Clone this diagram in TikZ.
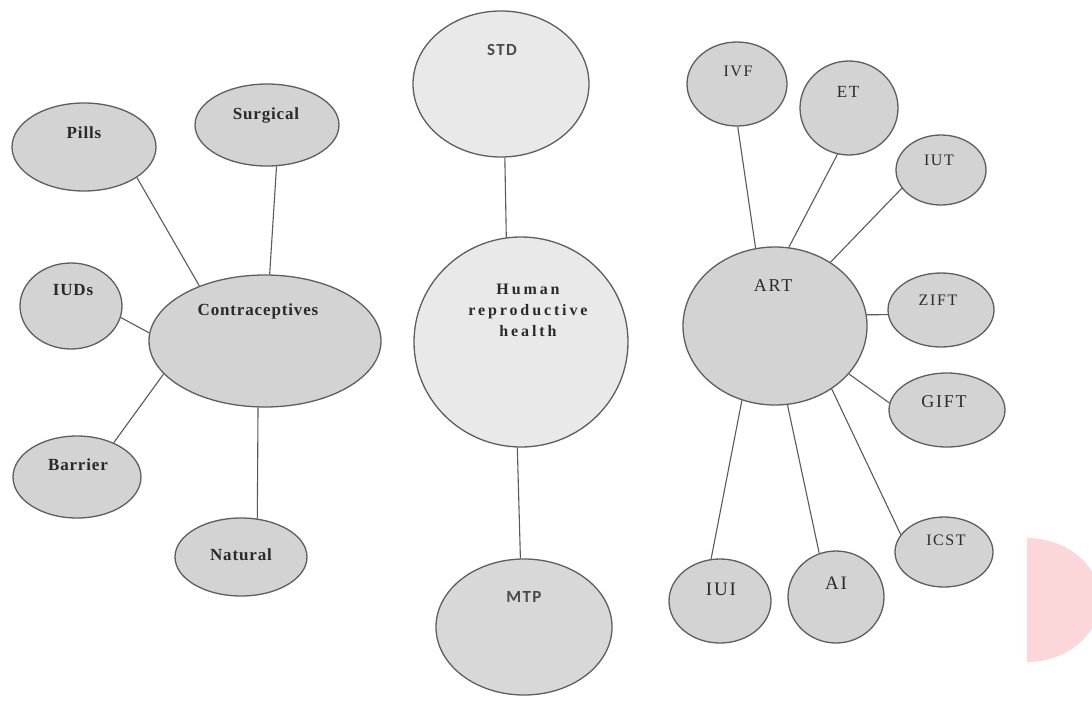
\documentclass[tikz,border=0pt]{standalone}
\usepackage{fontspec}
\setmainfont{Liberation Serif}
\newfontfamily\lsfont{Liberation Serif}[LetterSpace=5, BoldFont={Liberation Serif Bold}]
\newfontfamily\rsfont{Liberation Serif}[LetterSpace=10]
\newfontfamily\hfont{Liberation Serif}[LetterSpace=18, BoldFont={Liberation Serif Bold}]
\newfontfamily\sansfont{Carlito}[LetterSpace=8]
\usetikzlibrary{shapes.geometric}
\definecolor{nodefill}{HTML}{D3D3D3}
\definecolor{lightfill}{HTML}{E9E9E9}
\definecolor{mtpfill}{HTML}{D8D8D8}
\definecolor{edgec}{HTML}{5E5E5E}
\definecolor{linec}{HTML}{5A5A5A}
\definecolor{txtc}{HTML}{2A2A2A}
\definecolor{pinkc}{HTML}{FCD7DA}
\tikzset{
  ell/.style={ellipse, draw=edgec, line width=1.3pt, fill=nodefill, inner sep=0pt},
  ellight/.style={ell, fill=lightfill},
  lbl/.style={text=txtc, inner sep=0pt, font=\lsfont\bfseries\fontsize{17}{20}\selectfont},
  lblr/.style={text=txtc, inner sep=0pt, font=\rsfont\fontsize{16}{19}\selectfont},
  lbls/.style={text=txtc!85, inner sep=0pt, font=\sansfont\bfseries\fontsize{17}{20}\selectfont},
  conn/.style={draw=linec, line width=1.1pt}
}
\begin{document}
\begin{tikzpicture}[x=1pt,y=-1pt]
\useasboundingbox (0,0) rectangle (1092,702);
\fill[white] (0,0) rectangle (1092,702);
% pink shape at right edge
\begin{scope}
\clip (1027,0) rectangle (1092,702);
\fill[pinkc] (1027,600) ellipse [x radius=73, y radius=62];
\end{scope}
% left cluster
\node[ell, minimum width=144pt, minimum height=88pt] (pills) at (84,147) {};
\node[ell, minimum width=144pt, minimum height=82pt] (surg) at (267,125) {};
\node[ell, minimum width=102pt, minimum height=86pt] (iuds) at (71,306) {};
\node[ell, minimum width=232pt, minimum height=132pt] (contr) at (265,341) {};
\node[ell, minimum width=128pt, minimum height=82pt] (barrier) at (77,477) {};
\node[ell, minimum width=132pt, minimum height=78pt] (natural) at (241,557) {};
\node[lbl] (pillsT) at (84,133) {Pills};
\node[lbl] (surgT) at (266,115) {Surgical};
\node[lbl] (iudsT) at (73,290) {IUDs};
\node[lbl] (contrT) at (258,311) {Contraceptives};
\node[lbl] (barrierT) at (78,465) {Barrier};
\node[lbl] (naturalT) at (241,555) {Natural};
\draw[conn] (pills.-30) -- (contr.140);
\draw[conn] (surg.-77) -- (contr.86);
\draw[conn] (iuds.-13) -- (contr.176);
\draw[conn] (barrier.43) -- (contr.198);
\draw[conn] (natural.67) -- (contr.264);
% middle column
\node[ellight, minimum width=176pt, minimum height=146pt] (std) at (501,84) {};
\node[ellight, minimum width=214pt, minimum height=210pt] (human) at (521,342) {};
\node[ell, fill=mtpfill, minimum width=176pt, minimum height=136pt] (mtp) at (524,627) {};
\node[lbls] (stdT) at (502,50) {STD};
\node[text=txtc, inner sep=0pt, align=center, font=\hfont\bfseries\fontsize{16}{21}\selectfont] (humanT) at (528,310) {Human\\reproductive\\health};
\node[lbls] (mtpT) at (524,597) {MTP};
\draw[conn] (std.-87) -- (human.98);
\draw[conn] (human.-92) -- (mtp.93);
% right cluster
\node[ell, minimum width=100pt, minimum height=84pt] (ivf) at (737,84) {};
\node[ell, minimum width=98pt, minimum height=94pt] (et) at (849,108) {};
\node[ell, minimum width=90pt, minimum height=70pt] (iut) at (941,170) {};
\node[ell, minimum width=184pt, minimum height=158pt] (art) at (775,326) {};
\node[ell, minimum width=106pt, minimum height=74pt] (zift) at (941,310) {};
\node[ell, minimum width=116pt, minimum height=74pt] (gift) at (947,410) {};
\node[ell, minimum width=98pt, minimum height=70pt] (icst) at (944,552) {};
\node[ell, minimum width=102pt, minimum height=84pt] (iui) at (720,601) {};
\node[ell, minimum width=96pt, minimum height=92pt] (ai) at (836,597) {};
\node[lblr] (ivfT) at (738,71) {IVF};
\node[lblr, font=\rsfont\fontsize{17}{20}\selectfont] (etT) at (848,92) {ET};
\node[lblr] (iutT) at (939,160) {IUT};
\node[lblr, font=\rsfont\fontsize{18}{21}\selectfont] (artT) at (773,286) {ART};
\node[lblr] (ziftT) at (938,300) {ZIFT};
\node[lblr, font=\rsfont\fontsize{18}{21}\selectfont] (giftT) at (944,402) {GIFT};
\node[lblr] (icstT) at (946,540) {ICST};
\node[lblr, font=\rsfont\fontsize{19}{22}\selectfont] (iuiT) at (721,589) {IUI};
\node[lblr, font=\rsfont\fontsize{19}{22}\selectfont] (aiT) at (836,583) {AI};
\draw[conn] (ivf.-89) -- (art.104);
\draw[conn] (et.-104) -- (art.80);
\draw[conn] (iut.205) -- (art.49);
\draw[conn] (art.7) -- (zift.185);
\draw[conn] (art.-33) -- (gift.173);
\draw[conn] (art.-48) -- (icst.158);
\draw[conn] (art.-81) -- (ai.111);
\draw[conn] (art.-114) -- (iui.102);
\end{tikzpicture}
\end{document}
